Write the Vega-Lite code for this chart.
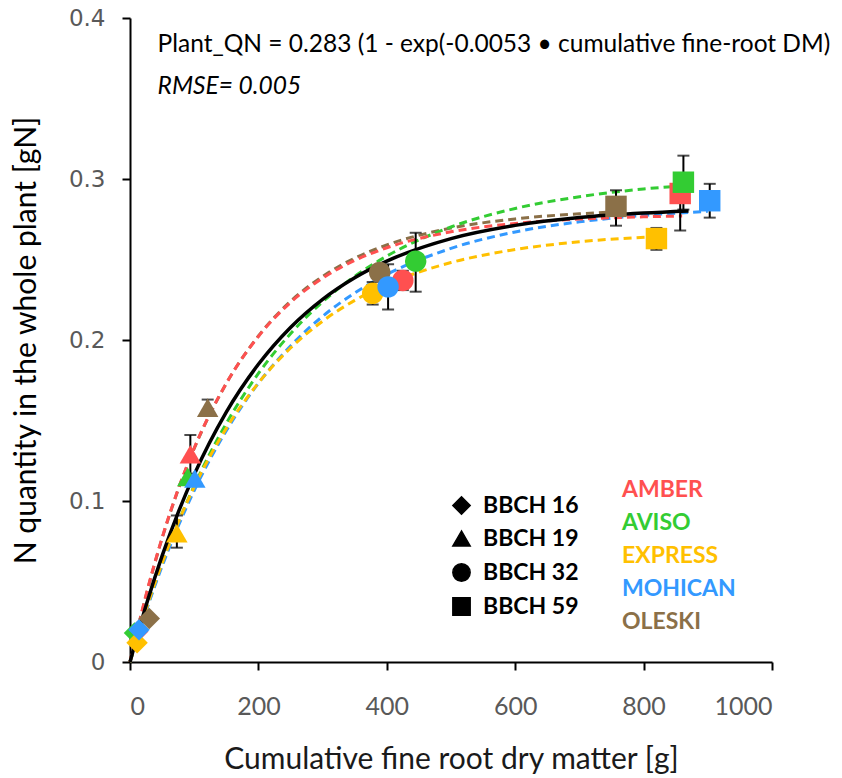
{
  "$schema": "https://vega.github.io/schema/vega-lite/v6.json",
  "width": 642,
  "height": 644,
  "autosize": {"type": "none"},
  "padding": {"left": 130, "top": 18, "right": 70, "bottom": 116},
  "background": "white",
  "config": {
    "view": {"stroke": null},
    "axis": {"grid": false, "domainColor": "black", "domainWidth": 2, "tickColor": "black", "tickWidth": 2, "tickSize": 8, "labelColor": "#595959", "labelFont": "Lato", "labelFontSize": 25, "titleFont": "Lato", "titleFontWeight": "normal", "titleColor": "#1a1a1a"}
  },
  "datasets": {
    "points": [
      {"variety": "AMBER", "bbch": "BBCH 16", "x": 12, "y": 0.019},
      {"variety": "AVISO", "bbch": "BBCH 16", "x": 7, "y": 0.018},
      {"variety": "EXPRESS", "bbch": "BBCH 16", "x": 11, "y": 0.012},
      {"variety": "MOHICAN", "bbch": "BBCH 16", "x": 14, "y": 0.020},
      {"variety": "OLESKI", "bbch": "BBCH 16", "x": 30, "y": 0.027},
      {"variety": "AMBER", "bbch": "BBCH 19", "x": 94, "y": 0.129},
      {"variety": "AVISO", "bbch": "BBCH 19", "x": 90, "y": 0.115},
      {"variety": "EXPRESS", "bbch": "BBCH 19", "x": 73, "y": 0.080},
      {"variety": "MOHICAN", "bbch": "BBCH 19", "x": 101, "y": 0.114},
      {"variety": "OLESKI", "bbch": "BBCH 19", "x": 121, "y": 0.158},
      {"variety": "AMBER", "bbch": "BBCH 32", "x": 425, "y": 0.237},
      {"variety": "AVISO", "bbch": "BBCH 32", "x": 445, "y": 0.249},
      {"variety": "EXPRESS", "bbch": "BBCH 32", "x": 378, "y": 0.229},
      {"variety": "OLESKI", "bbch": "BBCH 32", "x": 389, "y": 0.242},
      {"variety": "MOHICAN", "bbch": "BBCH 32", "x": 402, "y": 0.233},
      {"variety": "OLESKI", "bbch": "BBCH 59", "x": 757, "y": 0.283},
      {"variety": "AMBER", "bbch": "BBCH 59", "x": 857, "y": 0.291},
      {"variety": "AVISO", "bbch": "BBCH 59", "x": 862, "y": 0.298},
      {"variety": "MOHICAN", "bbch": "BBCH 59", "x": 903, "y": 0.2865},
      {"variety": "EXPRESS", "bbch": "BBCH 59", "x": 820, "y": 0.263}
    ],
    "errors": [
      {"variety": "AMBER", "x": 94, "ylo": 0.117, "yhi": 0.141},
      {"variety": "OLESKI", "x": 121, "ylo": 0.153, "yhi": 0.163},
      {"variety": "EXPRESS", "x": 73, "ylo": 0.071, "yhi": 0.091},
      {"variety": "AVISO", "x": 445, "ylo": 0.230, "yhi": 0.2666},
      {"variety": "AMBER", "x": 425, "ylo": 0.231, "yhi": 0.243},
      {"variety": "EXPRESS", "x": 378, "ylo": 0.222, "yhi": 0.236},
      {"variety": "MOHICAN", "x": 402, "ylo": 0.219, "yhi": 0.247},
      {"variety": "OLESKI", "x": 757, "ylo": 0.271, "yhi": 0.293},
      {"variety": "AVISO", "x": 862, "ylo": 0.281, "yhi": 0.3145},
      {"variety": "AMBER", "x": 857, "ylo": 0.268, "yhi": 0.3},
      {"variety": "MOHICAN", "x": 903, "ylo": 0.276, "yhi": 0.297},
      {"variety": "EXPRESS", "x": 820, "ylo": 0.256, "yhi": 0.2696}
    ],
    "curves": [
      {"variety": "OLESKI", "x": 0, "y": 0}, {"variety": "OLESKI", "x": 25, "y": 0.0412}, {"variety": "OLESKI", "x": 50, "y": 0.0768}, {"variety": "OLESKI", "x": 75, "y": 0.1070}, {"variety": "OLESKI", "x": 100, "y": 0.1326}, {"variety": "OLESKI", "x": 150, "y": 0.1730}, {"variety": "OLESKI", "x": 200, "y": 0.2025}, {"variety": "OLESKI", "x": 250, "y": 0.2240}, {"variety": "OLESKI", "x": 300, "y": 0.2395}, {"variety": "OLESKI", "x": 350, "y": 0.2508}, {"variety": "OLESKI", "x": 400, "y": 0.2590}, {"variety": "OLESKI", "x": 500, "y": 0.2695}, {"variety": "OLESKI", "x": 600, "y": 0.2752}, {"variety": "OLESKI", "x": 700, "y": 0.2784}, {"variety": "OLESKI", "x": 760, "y": 0.2796},
      {"variety": "AVISO", "x": 0, "y": 0}, {"variety": "AVISO", "x": 25, "y": 0.0321}, {"variety": "AVISO", "x": 50, "y": 0.0609}, {"variety": "AVISO", "x": 75, "y": 0.0865}, {"variety": "AVISO", "x": 100, "y": 0.1094}, {"variety": "AVISO", "x": 150, "y": 0.1482}, {"variety": "AVISO", "x": 200, "y": 0.1792}, {"variety": "AVISO", "x": 250, "y": 0.2039}, {"variety": "AVISO", "x": 300, "y": 0.2237}, {"variety": "AVISO", "x": 350, "y": 0.2395}, {"variety": "AVISO", "x": 400, "y": 0.2521}, {"variety": "AVISO", "x": 500, "y": 0.2702}, {"variety": "AVISO", "x": 600, "y": 0.2817}, {"variety": "AVISO", "x": 700, "y": 0.2890}, {"variety": "AVISO", "x": 800, "y": 0.2938}, {"variety": "AVISO", "x": 860, "y": 0.2957},
      {"variety": "MOHICAN", "x": 0, "y": 0}, {"variety": "MOHICAN", "x": 25, "y": 0.0315}, {"variety": "MOHICAN", "x": 50, "y": 0.0595}, {"variety": "MOHICAN", "x": 75, "y": 0.0843}, {"variety": "MOHICAN", "x": 100, "y": 0.1065}, {"variety": "MOHICAN", "x": 150, "y": 0.1437}, {"variety": "MOHICAN", "x": 200, "y": 0.1731}, {"variety": "MOHICAN", "x": 250, "y": 0.1963}, {"variety": "MOHICAN", "x": 300, "y": 0.2147}, {"variety": "MOHICAN", "x": 350, "y": 0.2292}, {"variety": "MOHICAN", "x": 400, "y": 0.2407}, {"variety": "MOHICAN", "x": 500, "y": 0.2569}, {"variety": "MOHICAN", "x": 600, "y": 0.2671}, {"variety": "MOHICAN", "x": 700, "y": 0.2734}, {"variety": "MOHICAN", "x": 800, "y": 0.2774}, {"variety": "MOHICAN", "x": 900, "y": 0.2799},
      {"variety": "EXPRESS", "x": 0, "y": 0}, {"variety": "EXPRESS", "x": 25, "y": 0.0327}, {"variety": "EXPRESS", "x": 50, "y": 0.0613}, {"variety": "EXPRESS", "x": 75, "y": 0.0865}, {"variety": "EXPRESS", "x": 100, "y": 0.1087}, {"variety": "EXPRESS", "x": 150, "y": 0.1451}, {"variety": "EXPRESS", "x": 200, "y": 0.1733}, {"variety": "EXPRESS", "x": 250, "y": 0.1950}, {"variety": "EXPRESS", "x": 300, "y": 0.2117}, {"variety": "EXPRESS", "x": 350, "y": 0.2246}, {"variety": "EXPRESS", "x": 400, "y": 0.2345}, {"variety": "EXPRESS", "x": 500, "y": 0.2481}, {"variety": "EXPRESS", "x": 600, "y": 0.2562}, {"variety": "EXPRESS", "x": 700, "y": 0.2610}, {"variety": "EXPRESS", "x": 820, "y": 0.2642},
      {"variety": "AMBER", "x": 0, "y": 0}, {"variety": "AMBER", "x": 25, "y": 0.0417}, {"variety": "AMBER", "x": 50, "y": 0.0771}, {"variety": "AMBER", "x": 75, "y": 0.1073}, {"variety": "AMBER", "x": 100, "y": 0.1329}, {"variety": "AMBER", "x": 150, "y": 0.1731}, {"variety": "AMBER", "x": 200, "y": 0.2022}, {"variety": "AMBER", "x": 250, "y": 0.2233}, {"variety": "AMBER", "x": 300, "y": 0.2384}, {"variety": "AMBER", "x": 350, "y": 0.2494}, {"variety": "AMBER", "x": 400, "y": 0.2573}, {"variety": "AMBER", "x": 500, "y": 0.2672}, {"variety": "AMBER", "x": 600, "y": 0.2724}, {"variety": "AMBER", "x": 700, "y": 0.2751}, {"variety": "AMBER", "x": 800, "y": 0.2765}, {"variety": "AMBER", "x": 860, "y": 0.2770}
    ],
    "fit": [
      {"x": 0, "y": 0}, {"x": 25, "y": 0.0351}, {"x": 50, "y": 0.0659}, {"x": 75, "y": 0.0928}, {"x": 100, "y": 0.1164}, {"x": 150, "y": 0.1552}, {"x": 200, "y": 0.1849}, {"x": 250, "y": 0.2078}, {"x": 300, "y": 0.2253}, {"x": 350, "y": 0.2387}, {"x": 400, "y": 0.2490}, {"x": 500, "y": 0.2630}, {"x": 600, "y": 0.2712}, {"x": 700, "y": 0.2761}, {"x": 800, "y": 0.2789}, {"x": 870, "y": 0.2802}
    ],
    "equation": [
      {"label": "Plant_QN = 0.283 (1 - exp(-0.0053 • cumulative fine-root DM)", "x": 43, "y": 0.383}
    ],
    "rmse": [
      {"label": "RMSE= 0.005", "x": 43, "y": 0.357}
    ]
  },
  "layer": [
    {
      "data": {"name": "curves"},
      "transform": [{"filter": "datum.variety != 'AMBER'"}],
      "mark": {"type": "line", "strokeDash": [8, 5], "strokeWidth": 3, "interpolate": "monotone"},
      "encoding": {
        "x": {"field": "x", "type": "quantitative", "scale": {"domain": [0, 1000], "nice": false}, "axis": {"values": [0, 200, 400, 600, 800, 1000], "format": "d", "title": "Cumulative fine root dry matter [g]", "titleFontSize": 30, "titlePadding": 25, "labelPadding": 24}},
        "y": {"field": "y", "type": "quantitative", "scale": {"domain": [0, 0.4], "nice": false}, "axis": {"values": [0, 0.1, 0.2, 0.3, 0.4], "format": ".1~f", "title": "N quantity in the whole plant [gN]", "titleFontSize": 30, "titlePadding": 27, "titleColor": "black", "labelFont": "DejaVu Sans", "labelFontSize": 23, "labelPadding": 17}},
        "color": {"field": "variety", "type": "nominal"},
        "detail": {"field": "variety"}
      }
    },
    {
      "data": {"name": "curves"},
      "transform": [{"filter": "datum.variety == 'AMBER'"}],
      "mark": {"type": "line", "strokeDash": [8, 5], "strokeWidth": 3, "interpolate": "monotone"},
      "encoding": {
        "x": {"field": "x", "type": "quantitative"},
        "y": {"field": "y", "type": "quantitative"},
        "color": {"field": "variety", "type": "nominal"}
      }
    },
    {
      "data": {"name": "fit"},
      "mark": {"type": "line", "color": "black", "strokeWidth": 3.5, "interpolate": "monotone"},
      "encoding": {
        "x": {"field": "x", "type": "quantitative"},
        "y": {"field": "y", "type": "quantitative"}
      }
    },
    {
      "data": {"name": "errors"},
      "mark": {"type": "rule", "color": "black", "strokeWidth": 2},
      "encoding": {
        "x": {"field": "x", "type": "quantitative"},
        "y": {"field": "ylo", "type": "quantitative"},
        "y2": {"field": "yhi"}
      }
    },
    {
      "data": {"name": "errors"},
      "mark": {"type": "tick", "color": "black", "orient": "horizontal", "size": 12, "thickness": 2},
      "encoding": {
        "x": {"field": "x", "type": "quantitative"},
        "y": {"field": "ylo", "type": "quantitative"}
      }
    },
    {
      "data": {"name": "errors"},
      "mark": {"type": "tick", "color": "black", "orient": "horizontal", "size": 12, "thickness": 2},
      "encoding": {
        "x": {"field": "x", "type": "quantitative"},
        "y": {"field": "yhi", "type": "quantitative"}
      }
    },
    {
      "data": {"name": "points"},
      "mark": {"type": "point", "filled": true, "opacity": 1, "size": 460},
      "encoding": {
        "x": {"field": "x", "type": "quantitative"},
        "y": {"field": "y", "type": "quantitative"},
        "color": {
          "field": "variety", "type": "nominal",
          "scale": {"domain": ["AMBER", "AVISO", "EXPRESS", "MOHICAN", "OLESKI"], "range": ["#FF5050", "#33CC33", "#FFC000", "#3399FF", "#8B7048"]},
          "legend": {"title": null, "orient": "none", "legendX": 469, "legendY": 460, "symbolSize": 0, "symbolOpacity": 0, "labelOffset": 0, "labelFont": "Lato", "labelFontSize": 23, "labelFontWeight": "bold", "rowPadding": 9,
            "encode": {"labels": {"update": {"fill": {"scale": "color", "field": "value"}}}}}
        },
        "shape": {
          "field": "bbch", "type": "nominal",
          "scale": {"domain": ["BBCH 16", "BBCH 19", "BBCH 32", "BBCH 59"], "range": ["diamond", "triangle-up", "circle", "square"]},
          "legend": {"title": null, "orient": "none", "legendX": 320, "legendY": 476, "symbolSize": 300, "symbolFillColor": "black", "symbolStrokeColor": "black", "labelOffset": 10, "labelFont": "Lato", "labelFontSize": 23, "labelFontWeight": "bold", "labelColor": "black", "rowPadding": 9,
            "encode": {"symbols": {"update": {"fill": {"value": "black"}, "stroke": {"value": "black"}, "opacity": {"value": 1}}}}}
        }
      }
    },
    {
      "data": {"name": "equation"},
      "mark": {"type": "text", "align": "left", "baseline": "middle", "font": "Lato", "fontSize": 24.5, "color": "black"},
      "encoding": {
        "x": {"field": "x", "type": "quantitative"},
        "y": {"field": "y", "type": "quantitative"},
        "text": {"field": "label"}
      }
    },
    {
      "data": {"name": "rmse"},
      "mark": {"type": "text", "align": "left", "baseline": "middle", "font": "Lato", "fontSize": 24.5, "fontStyle": "italic", "color": "black"},
      "encoding": {
        "x": {"field": "x", "type": "quantitative"},
        "y": {"field": "y", "type": "quantitative"},
        "text": {"field": "label"}
      }
    }
  ]
}
